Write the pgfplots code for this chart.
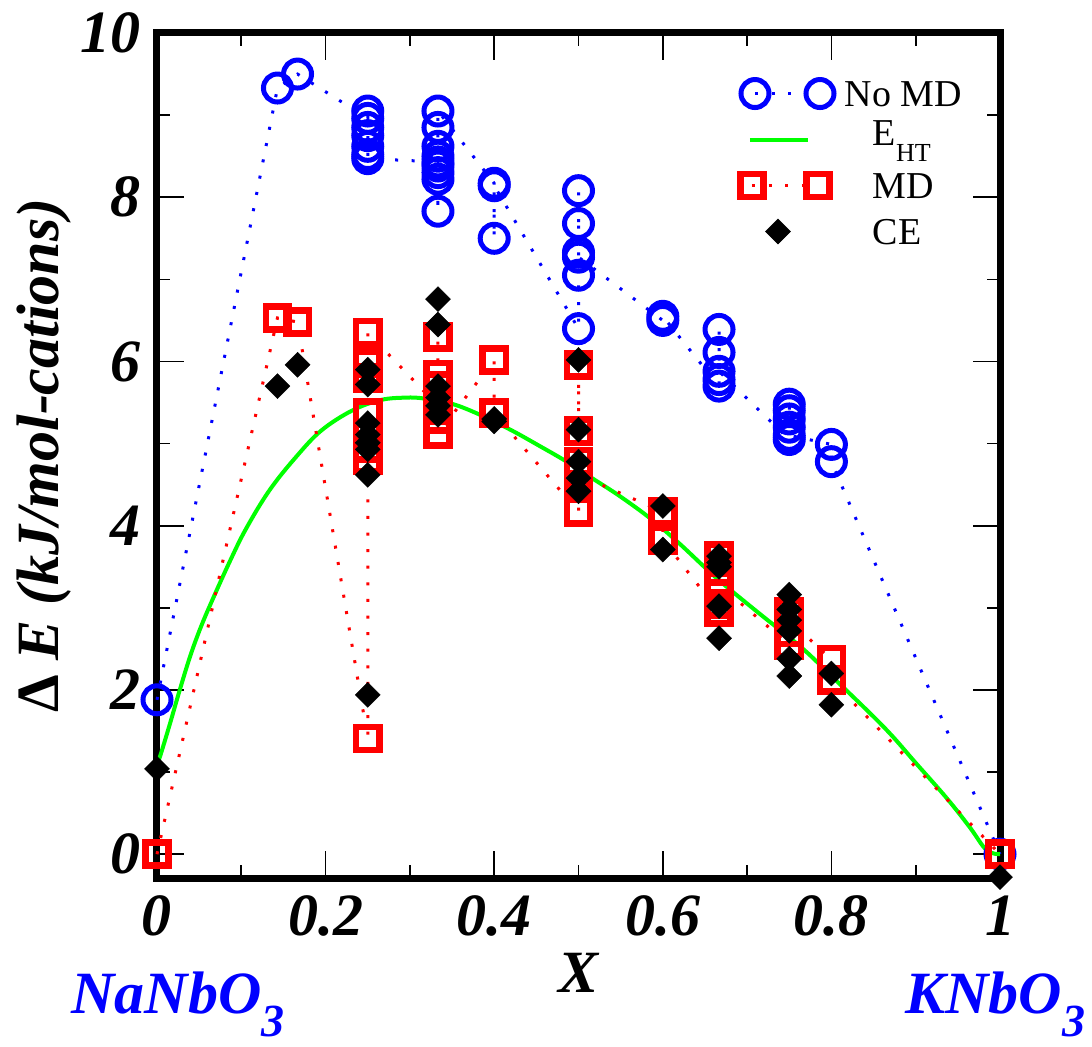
\documentclass[border=0pt]{standalone}
\usepackage{pgfplots}
\pgfplotsset{compat=1.18}
\usepackage{fontspec}
\setmainfont{Liberation Serif}
\newcommand{\bigfont}{\fontsize{30}{30}\selectfont\bfseries\itshape}
\newcommand{\sub}[1]{\raisebox{-11.5pt}{\fontsize{23}{23}\selectfont #1}}
\pgfplotsset{
  legA/.style={legend image code/.code={
    \path[draw=none, fill=none] (0pt,-11.5pt) rectangle (71.5pt,11.5pt);
    \draw[##1] plot coordinates {(12.5pt,0pt) (45pt,0pt)};}},
  legB/.style={legend image code/.code={
    \path[draw=none, fill=none] (0pt,-11.5pt) rectangle (71.5pt,11.5pt);
    \draw[##1] (10pt,0pt) -- (39pt,0pt);}},
  legC/.style={legend image code/.code={
    \path[draw=none, fill=none] (0pt,-11.5pt) rectangle (71.5pt,11.5pt);
    \draw[##1] plot coordinates {(11pt,0pt) (44pt,0pt)};}},
  legD/.style={legend image code/.code={
    \path[draw=none, fill=none] (0pt,-11.5pt) rectangle (71.5pt,11.5pt);
    \draw[##1] plot coordinates {(24pt,0pt)};}},
}

\begin{document}
\begin{tikzpicture}
\begin{axis}[
  scale only axis, width=421.5pt, height=422.5pt,
  xmin=0, xmax=1, ymin=-0.29, ymax=10,
  clip=false,
  axis line style={line width=3.5pt, line cap=rect},
  xtick={0,0.2,0.4,0.6,0.8,1},
  ytick={0,2,4,6,8,10},
  minor x tick num=1, minor y tick num=1,
  tick align=inside,
  major tick length=13.5pt, minor tick length=6.5pt,
  tick style={black, line width=0.85pt},
  /pgf/number format/assume math mode=true,
  ticklabel style={font=\bigfont, inner sep=0pt},
  xticklabel style={yshift=-8.5pt},
  yticklabel style={xshift=-8pt},
  xlabel={X},
  xlabel style={at={([yshift=-57pt]rel axis cs:0.5,0)}, anchor=base, font=\bigfont, inner sep=0pt},
  ylabel={{\upshape Δ} E (kJ/mol-cations)},
  ylabel style={at={([xshift=-56.5pt]rel axis cs:0,0.5)}, anchor=center, font=\bigfont, inner sep=0pt},
  legend style={draw=none, fill=none, at={(rel axis cs:0.6797,0.9556)}, anchor=north west,
    inner sep=0pt, outer sep=0pt, row sep=0pt, column sep=0pt,
    font=\fontsize{19}{19}\selectfont,
    nodes={inner sep=0pt, text height=18.2pt, text depth=4.8pt}},
  legend cell align=left,
]
\addplot[blue, line width=1.5pt, dash pattern=on 1.5pt off 6.8pt,
  mark=o, mark size=7pt, mark options={solid, line width=2.5pt}, legA
] coordinates {
(0,1.88) (0.1429,9.33) (0.1667,9.50)
(0.25,8.96) (0.25,9.05) (0.25,8.85) (0.25,8.75) (0.25,8.62) (0.25,8.52) (0.25,8.47)
(0.3333,8.43) (0.3333,7.83) (0.3333,8.22) (0.3333,8.30) (0.3333,8.38) (0.3333,8.50) (0.3333,8.62) (0.3333,8.85) (0.3333,9.05)
(0.4,8.17) (0.4,7.50) (0.4,8.14)
(0.5,6.40) (0.5,7.05) (0.5,8.08) (0.5,7.68) (0.5,7.33) (0.5,7.27)
(0.6,6.50) (0.6,6.55)
(0.6667,5.70) (0.6667,5.78) (0.6667,6.11) (0.6667,6.39) (0.6667,5.88)
(0.75,5.05) (0.75,5.48) (0.75,5.40) (0.75,5.30) (0.75,5.20) (0.75,5.10)
(0.8,4.99) (0.8,4.78)
(1,0)
};
\addlegendentry{\hspace*{-14pt}No MD}

\addplot[green, line width=2pt, no marks, smooth, tension=0.6, legB] coordinates {
(0,1.10) (0.0036,1.19) (0.0154,1.59) (0.027,2.00) (0.039,2.40) (0.051,2.74)
(0.065,3.08) (0.0866,3.57) (0.106,3.97) (0.134,4.44) (0.166,4.85) (0.195,5.16)
(0.231,5.40) (0.265,5.53) (0.295,5.56) (0.316,5.55) (0.348,5.49) (0.379,5.37)
(0.419,5.17) (0.454,4.97) (0.486,4.78) (0.5175,4.57) (0.549,4.36) (0.585,4.09)
(0.62,3.78) (0.664,3.36) (0.711,2.96) (0.763,2.53) (0.80,2.17) (0.862,1.55)
(0.901,1.10) (0.937,0.68) (0.964,0.33) (0.984,0.05) (1,0)
};
\addlegendentry{\raisebox{3.5pt}{E\raisebox{-8pt}{\fontsize{13}{13}\selectfont HT}}}

\addplot[red, line width=1.5pt, dash pattern=on 1.5pt off 6.8pt,
  mark=square, mark size=5.8pt, mark options={solid, line width=3.3pt}, legC
] coordinates {
(0,0) (0.1429,6.53) (0.1667,6.48)
(0.25,1.41) (0.25,4.80) (0.25,4.95) (0.25,5.12) (0.25,5.37) (0.25,5.80) (0.25,5.98) (0.25,6.35)
(0.3333,5.46) (0.3333,6.30) (0.3333,5.84) (0.3333,5.70) (0.3333,5.30) (0.3333,5.12)
(0.4,6.02) (0.4,5.37)
(0.5,4.17) (0.5,4.48) (0.5,5.96) (0.5,5.15) (0.5,4.78) (0.5,4.62)
(0.6,4.17) (0.6,3.83)
(0.6667,2.95) (0.6667,3.05) (0.6667,3.63) (0.6667,3.45) (0.6667,3.28)
(0.75,2.55) (0.75,2.70) (0.75,2.95) (0.75,2.85)
(0.8,2.37) (0.8,2.12)
(1,0)
};
\addlegendentry{MD}

\addplot[black, only marks, mark=square*, mark size=4.42pt,
  mark options={rotate=45, line width=0.2pt, fill=black}, legD
] coordinates {
(0,1.04) (1,-0.28) (0.1429,5.70) (0.1667,5.96)
(0.25,5.90) (0.25,5.72) (0.25,5.25) (0.25,5.11) (0.25,5.01) (0.25,4.93) (0.25,4.62) (0.25,1.94)
(0.3333,6.76) (0.3333,6.45) (0.3333,5.70) (0.3333,5.56) (0.3333,5.46) (0.3333,5.35)
(0.4,5.27) (0.4,5.30)
(0.5,6.02) (0.5,5.17) (0.5,4.78) (0.5,4.58) (0.5,4.42)
(0.6,4.24) (0.6,3.71)
(0.6667,3.63) (0.6667,3.55) (0.6667,3.50) (0.6667,3.02) (0.6667,2.63)
(0.75,3.16) (0.75,2.98) (0.75,2.85) (0.75,2.72) (0.75,2.38) (0.75,2.17)
(0.8,2.20) (0.8,1.82)
};
\addlegendentry{CE}

\node[anchor=base west, font=\bigfont, text=blue, inner sep=0pt] at ([xshift=-43pt, yshift=-67.5pt]rel axis cs:0,0) {NaNbO\sub{3}};
\node[anchor=base west, font=\bigfont, text=blue, inner sep=0pt] at ([xshift=-47.5pt, yshift=-67.5pt]rel axis cs:1,0) {KNbO\sub{3}};
\end{axis}
\pgfresetboundingbox
\path[use as bounding box] ([shift={(-78.5pt,-84pt)}]current axis.south west) rectangle ([shift={(46pt,16.5pt)}]current axis.north east);
\end{tikzpicture}
\end{document}
